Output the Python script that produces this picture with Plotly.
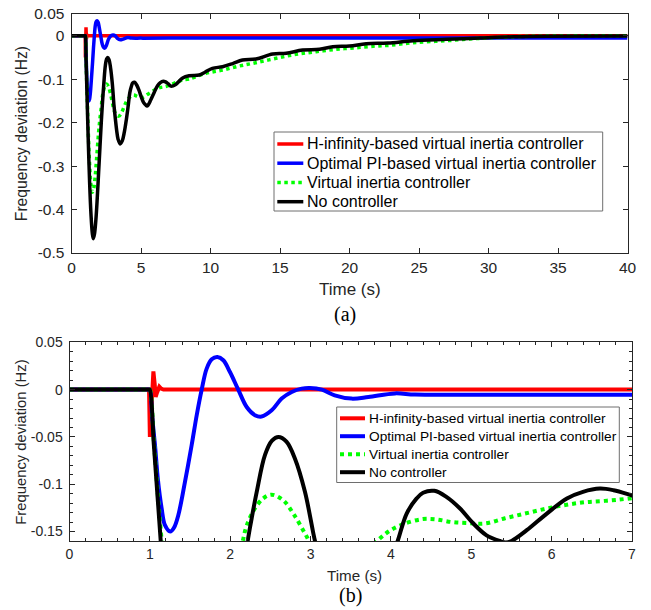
import plotly.graph_objects as go

# ---------------- data ----------------
red_t = [0, 0.99, 1.0, 1.02, 1.044, 1.06, 1.072, 1.09, 1.118, 1.14, 1.17, 40]
red_v = [0, 0, -0.05, -0.01, 0.0193, 0.006, -0.0077, -0.003, 0.003, 0.001, 0.0, 0.0]

blue_t = [0, 0.99, 1.0, 1.03, 1.064, 1.1, 1.147, 1.188, 1.254, 1.3, 1.354, 1.437,
          1.52, 1.583, 1.645, 1.707, 1.77, 1.84, 1.914, 1.997, 2.1, 2.205, 2.308,
          2.39, 2.516, 2.64, 2.765, 2.89, 2.99, 3.14, 3.3, 3.51, 3.72, 4.05, 4.3,
          5.0, 7.0, 40]
blue_v = [0, 0, 0, -0.03, -0.0588, -0.095, -0.1257, -0.1433, -0.150, -0.146, -0.1327,
          -0.0975, -0.0588, -0.0271, 0, 0.0222, 0.032, 0.0344, 0.031, 0.0186, 0,
          -0.0184, -0.0270, -0.0285, -0.0219, -0.0095, -0.0025, 0.001, 0.0017, 0.0,
          -0.006, -0.0095, -0.0078, -0.004, -0.0053, -0.0055, -0.0055, -0.0055]

green_t = [0, 0.99, 1.0, 1.05, 1.1, 1.147, 1.2, 1.3, 1.4, 1.5, 1.6, 1.7, 1.8, 1.95,
           2.05, 2.15, 2.2, 2.29, 2.41, 2.516, 2.66, 2.785, 2.93, 3.05, 3.2, 3.4,
           3.55, 3.7, 3.84, 3.97, 4.13, 4.38, 4.55, 4.76, 4.95, 5.17, 5.42, 5.67,
           5.92, 6.17, 6.41, 6.66, 6.97, 7.5, 7.98, 8.46, 9.67, 10.87, 12.07, 13.27,
           14.72, 16.16, 17.6, 19.04, 20.5, 21.9, 22.9, 24.57, 26.97, 29.4, 31.8,
           34.2, 40]
green_v = [0, 0, 0, -0.055, -0.112, -0.16, -0.215, -0.295, -0.343, -0.36, -0.352,
           -0.325, -0.285, -0.222, -0.19, -0.162, -0.145, -0.128, -0.115, -0.111,
           -0.117, -0.131, -0.152, -0.17, -0.181, -0.185, -0.18, -0.17, -0.159,
           -0.150, -0.143, -0.137, -0.137, -0.140, -0.141, -0.1415, -0.136, -0.131,
           -0.126, -0.122, -0.119, -0.1176, -0.115, -0.108, -0.102, -0.0997, -0.0866,
           -0.079, -0.0697, -0.062, -0.052, -0.0428, -0.0368, -0.0313, -0.0276,
           -0.0237, -0.022, -0.016, -0.0115, -0.006, -0.0023, -0.0008, 0]

black_t = [0, 0.99, 1.0, 1.05, 1.1, 1.135, 1.2, 1.3, 1.4, 1.5, 1.57, 1.65, 1.75,
           1.85, 1.95, 2.05, 2.15, 2.217, 2.267, 2.33, 2.433, 2.52, 2.6, 2.7, 2.806,
           2.93, 3.03, 3.055, 3.15, 3.25, 3.35, 3.5, 3.65, 3.8, 3.95, 4.084, 4.196,
           4.32, 4.40, 4.54, 4.69, 4.86, 5.025, 5.19, 5.357, 5.43, 5.50, 5.69, 5.94,
           6.19, 6.39, 6.60, 6.77, 6.97, 7.15, 7.5, 8.0, 8.46, 9.19, 9.6, 10.14,
           10.87, 11.6, 12.3, 13.27, 14.47, 15.44, 16.63, 17.84, 18.8, 20.0, 21.2,
           22.76, 24.57, 26.97, 29.4, 31.8, 34.2, 40]
black_v = [0, 0, 0, -0.059, -0.118, -0.16, -0.235, -0.335, -0.41, -0.455, -0.467,
           -0.457, -0.425, -0.375, -0.315, -0.255, -0.195, -0.16, -0.136, -0.108,
           -0.069, -0.054, -0.05, -0.055, -0.073, -0.108, -0.150, -0.16, -0.19,
           -0.218, -0.238, -0.249, -0.242, -0.222, -0.192, -0.16, -0.131, -0.115,
           -0.109, -0.107, -0.1134, -0.1257, -0.1415, -0.154, -0.16, -0.1615, -0.16,
           -0.1486, -0.131, -0.115, -0.108, -0.1046, -0.1063, -0.111, -0.116, -0.112,
           -0.097, -0.092, -0.0905, -0.084, -0.075, -0.0713, -0.064, -0.056, -0.0536,
           -0.042, -0.0405, -0.033, -0.0313, -0.0253, -0.0237, -0.0184, -0.0168,
           -0.0115, -0.0083, -0.0053, -0.0023, -0.001, -0.0005]

series_names = ["H-infinity-based virtual inertia controller",
                "Optimal PI-based virtual inertia controller",
                "Virtual inertia controller",
                "No controller"]
series_colors = ["#ff0000", "#0000ff", "#00ff00", "#000000"]
series_dash = ["solid", "solid", "dot", "solid"]
series_shape = ["linear", "spline", "spline", "spline"]

top_xticks = [0, 5, 10, 15, 20, 25, 30, 35, 40]
top_yticks = [-0.5, -0.4, -0.3, -0.2, -0.1, 0, 0.05]
top_ytext = ["-0.5", "-0.4", "-0.3", "-0.2", "-0.1", "0", "0.05"]
bot_xticks = [0, 1, 2, 3, 4, 5, 6, 7]
bot_yticks = [-0.15, -0.1, -0.05, 0, 0.05]
bot_ytext = ["-0.15", "-0.1", "-0.05", "0", "0.05"]
bot_xminor = [i / 5 for i in range(0, 36)]
bot_yminor = [round(-0.16 + i / 100, 2) for i in range(0, 22)]

x_title = "Time (s)"
y_title = "Frequency deviation (Hz)"

# ---------------- figure ----------------
W, H = 651, 610
def px(x):
    return x / W
def py(y):
    return 1 - y / H

SANS = "Liberation Sans, Arial, Helvetica, sans-serif"
SERIF = "Liberation Serif, Times New Roman, serif"
AX = "#262626"

fig = go.Figure()
data = [(red_t, red_v), (blue_t, blue_v), (green_t, green_v), (black_t, black_v)]

for (tt, vv), c, d, s in zip(data, series_colors, series_dash, series_shape):
    fig.add_trace(go.Scatter(x=tt, y=vv, mode="lines", xaxis="x", yaxis="y",
                             line=dict(color=c, width=3.5, dash=d, shape=s),
                             showlegend=False, hoverinfo="skip"))
for (tt, vv), c, d, s in zip(data, series_colors, series_dash, series_shape):
    fig.add_trace(go.Scatter(x=tt, y=vv, mode="lines", xaxis="x2", yaxis="y2",
                             line=dict(color=c, width=4, dash=d, shape=s),
                             showlegend=False, hoverinfo="skip"))

common = dict(showline=True, linecolor=AX, linewidth=1, mirror="allticks",
              ticks="inside", tickcolor=AX, tickwidth=1, showgrid=False,
              zeroline=False, color=AX, automargin=False, tickmode="array")

fig.update_layout(
    template="none",
    width=W, height=H,
    margin=dict(l=0, r=0, t=0, b=0, pad=0, autoexpand=False),
    paper_bgcolor="white", plot_bgcolor="white", showlegend=False,
    xaxis=dict(domain=[px(71.5), px(627.5)], anchor="y", range=[0, 40],
               tickvals=top_xticks, ticktext=[str(v) for v in top_xticks], ticklen=5,
               tickfont=dict(family=SANS, size=15.5, color=AX), **common),
    yaxis=dict(domain=[py(253), py(14)], anchor="x", range=[-0.5, 0.05],
               tickvals=top_yticks, ticktext=top_ytext, ticklen=5,
               ticklabelstandoff=3,
               tickfont=dict(family=SANS, size=15.5, color=AX), **common),
    xaxis2=dict(domain=[px(69.5), px(632)], anchor="y2", range=[0, 7],
                tickvals=bot_xticks, ticktext=[str(v) for v in bot_xticks], ticklen=5,
                minor=dict(tickmode="array", tickvals=bot_xminor, ticks="inside",
                           ticklen=3, tickcolor=AX, showgrid=False),
                tickfont=dict(family=SANS, size=14, color=AX), **common),
    yaxis2=dict(domain=[py(541), py(342.3)], anchor="x2", range=[-0.16, 0.05],
                tickvals=bot_yticks, ticktext=bot_ytext, ticklen=5,
                ticklabelstandoff=3,
                minor=dict(tickmode="array", tickvals=bot_yminor, ticks="inside",
                           ticklen=3, tickcolor=AX, showgrid=False),
                tickfont=dict(family=SANS, size=14, color=AX), **common),
)

ann = []
def text(x, y, s, size, family=SANS, angle=0, xanchor="center", color=AX):
    ann.append(dict(x=px(x), y=py(y), xref="paper", yref="paper", text=s,
                    showarrow=False, textangle=angle, xanchor=xanchor,
                    yanchor="middle", font=dict(family=family, size=size, color=color)))

# axis titles & panel labels
text(350, 289.7, x_title, 17)
text(21.7, 133.5, y_title, 15.7, angle=-90)
text(345.3, 314, "(a)", 20, family=SERIF, color="#000000")
text(354, 575, x_title, 15.2)
text(20.7, 442, y_title, 14.8, angle=-90)
text(350.8, 595.3, "(b)", 20, family=SERIF, color="#000000")

shapes = []
def legend(box, line_x, text_x, ys, size, lw):
    x0, x1, y0, y1 = box
    shapes.append(dict(type="rect", xref="paper", yref="paper",
                       x0=px(x0), x1=px(x1), y0=py(y1), y1=py(y0),
                       line=dict(color="#6e6e6e", width=1), fillcolor="white"))
    for name, c, d, yy in zip(series_names, series_colors, series_dash, ys):
        shapes.append(dict(type="line", xref="paper", yref="paper",
                           x0=px(line_x[0]), x1=px(line_x[1]), y0=py(yy), y1=py(yy),
                           line=dict(color=c, width=lw, dash=d)))
        text(text_x, yy, name, size, xanchor="left", color="#000000")

legend((274, 602.7, 132, 211), (277.3, 303.3), 304.5, [144, 163.2, 182.5, 201.7], 16, 3.5)
legend((336.7, 619.3, 407, 482.5), (340, 365), 366.5, [418.3, 436.2, 454.2, 472.2], 13.7, 4)

fig.update_layout(annotations=ann, shapes=shapes)
fig.write_html("out.html")
